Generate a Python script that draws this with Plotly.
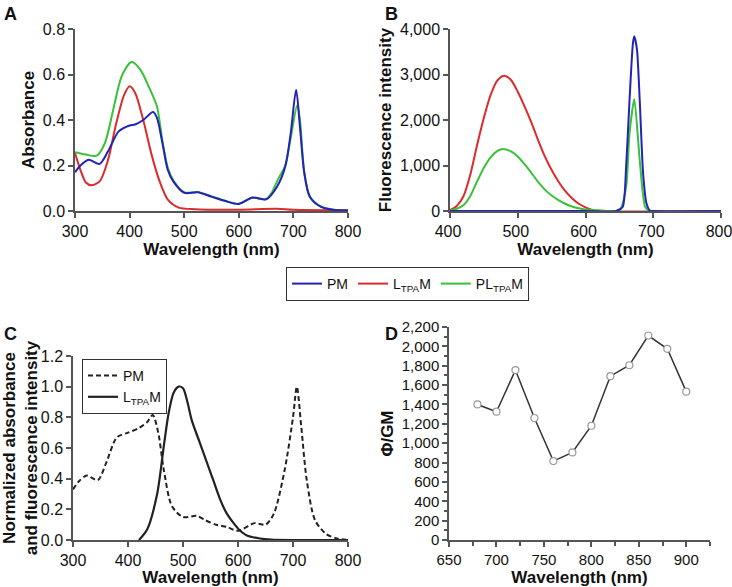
import plotly.graph_objects as go

# ---------- Data ----------
# Panel A: absorbance
a_pm_wl = [300,310,325,345,360,380,400,410,425,443,450,460,470,480,500,525,550,575,600,625,650,670,685,695,705,712,720,730,750,775,800]
a_pm = [0.17,0.20,0.225,0.207,0.26,0.35,0.376,0.38,0.40,0.435,0.41,0.30,0.18,0.13,0.08,0.082,0.063,0.044,0.031,0.059,0.051,0.107,0.195,0.34,0.533,0.37,0.166,0.063,0.019,0.004,0.002]
a_l_wl = [300,310,320,330,345,360,375,390,400,410,425,440,455,470,490,520,600,670,700,800]
a_l = [0.255,0.18,0.125,0.113,0.13,0.22,0.38,0.51,0.548,0.52,0.40,0.25,0.13,0.05,0.015,0.008,0.006,0.01,0.005,0.003]
a_pl_wl = [300,320,340,355,370,385,400,405,420,435,450,460,470,480,500,525,550,575,600,625,650,660,672,685,695,707,712,720,730,750,775,800]
a_pl = [0.258,0.248,0.243,0.30,0.445,0.59,0.65,0.655,0.62,0.547,0.46,0.31,0.19,0.135,0.082,0.083,0.064,0.045,0.032,0.058,0.052,0.08,0.14,0.2,0.32,0.465,0.40,0.17,0.065,0.02,0.005,0.002]

# Panel B: fluorescence
b_pm_wl = [400,500,600,645,655,660,665,670,672,676,680,685,690,695,700,800]
b_pm = [0,0,0,0,95,976,2444,3690,3840,3545,2444,830,170,10,0,0]
b_l_wl = [400,410,420,430,440,450,460,470,480,490,500,510,520,530,540,550,560,570,580,590,600,610,620,800]
b_l = [20,110,330,800,1450,2050,2550,2870,2975,2880,2620,2300,1950,1560,1200,900,650,440,280,160,80,25,0,0]
b_pl_wl = [400,410,420,430,440,450,460,470,478,490,500,510,520,530,540,550,560,570,580,590,600,620,650,660,665,672,680,688,695,800]
b_pl = [10,50,130,330,650,950,1180,1320,1365,1310,1200,1030,840,640,470,340,240,160,100,60,35,15,5,535,1710,2460,1123,95,0,0]

# Panel C: normalized
c_pm_wl = [300,310,325,345,360,380,400,420,435,445,455,465,480,500,525,540,560,580,600,630,650,665,685,700,707,715,725,740,760,780,800]
c_pm = [0.33,0.38,0.42,0.39,0.5,0.67,0.70,0.73,0.77,0.815,0.70,0.46,0.22,0.15,0.157,0.13,0.10,0.085,0.06,0.11,0.10,0.17,0.46,0.80,1.0,0.74,0.39,0.13,0.04,0.01,0.0]
c_l_wl = [420,435,453,465,474,483,492,500,508,516,530,544,556,568,580,592,604,616,640,660,700,800]
c_l = [0,0.07,0.3,0.61,0.83,0.96,1.0,0.99,0.9,0.78,0.64,0.5,0.38,0.26,0.17,0.11,0.06,0.03,0.01,0.003,0,0]

# Panel D: action cross-section
d_wl = [680,700,720,740,760,780,800,820,840,860,880,900]
d_val = [1400,1325,1755,1260,815,905,1180,1692,1805,2112,1975,1532]

BLUE = "#2323b8"
RED = "#dc2b2b"
GREEN = "#38c238"
FONT = "Liberation Sans, Arial, sans-serif"

W, H = 732, 587
def px_x(a, b):
    return [a / W, b / W]
def px_y(top, bottom):
    return [(H - bottom) / H, (H - top) / H]

fig = go.Figure()

def line(x, y, color, name, xa, ya, show, legend="legend", dash="solid", width=2, rank=1000, smooth=0.8):
    fig.add_trace(go.Scatter(x=x, y=y, mode="lines", name=name,
                             line=dict(color=color, width=width, dash=dash, shape="spline", smoothing=smooth),
                             xaxis=xa, yaxis=ya, showlegend=show, legend=legend, legendrank=rank))

# A (green drawn first, blue on top)
line(a_pl_wl, a_pl, GREEN, "PL<sub>TPA</sub>M", "x", "y", True, rank=3)
line(a_l_wl, a_l, RED, "L<sub>TPA</sub>M", "x", "y", True, rank=2)
line(a_pm_wl, a_pm, BLUE, "PM", "x", "y", True, rank=1)
# B
line(b_l_wl, b_l, RED, "L", "x2", "y2", False)
line(b_pl_wl, b_pl, GREEN, "PL", "x2", "y2", False, smooth=0.6)
line(b_pm_wl, b_pm, BLUE, "P", "x2", "y2", False, smooth=0.6)
# C
line(c_pm_wl, c_pm, "#222222", "PM", "x3", "y3", True, legend="legend2", dash="5px,3px", width=2, rank=1)
line(c_l_wl, c_l, "#222222", "L<sub>TPA</sub>M", "x3", "y3", True, legend="legend2", width=2.2, rank=2)
# D
fig.add_trace(go.Scatter(x=d_wl, y=d_val, mode="lines+markers", showlegend=False,
                         line=dict(color="#333333", width=1.5),
                         marker=dict(symbol="circle", size=7, color="white",
                                     line=dict(color="#999999", width=1.2)),
                         xaxis="x4", yaxis="y4"))

tickfont = dict(family=FONT, size=16, color="#111111")
titlefont = dict(family=FONT, size=17, color="#111111")
axcommon = dict(showline=True, linecolor="#555555", linewidth=1.5, ticks="outside",
                ticklen=5, tickcolor="#555555", tickwidth=1.5, showgrid=False,
                zeroline=False, tickfont=tickfont, fixedrange=True, automargin=False,
                ticklabeloverflow="allow")

def xt(t, standoff=4):
    return dict(text="<b>%s</b>" % t, font=titlefont, standoff=standoff)

fig.update_layout(
    width=W, height=H, margin=dict(l=0, r=0, t=0, b=0),
    paper_bgcolor="white", plot_bgcolor="white",
    font=dict(family=FONT, color="#111111"),
    xaxis=dict(domain=px_x(75, 348), range=[300, 800], tickvals=[300,400,500,600,700,800],
               anchor="y", title=xt("Wavelength (nm)"), **axcommon),
    yaxis=dict(domain=px_y(29, 211), range=[0, 0.8], tickvals=[0,0.2,0.4,0.6,0.8], tickformat=".1f",
               anchor="x", title=xt("Absorbance"), **axcommon),
    xaxis2=dict(domain=px_x(450, 721), range=[400, 800], tickvals=[400,500,600,700,800],
                anchor="y2", title=xt("Wavelength (nm)"), ticklabelshift=-2, **axcommon),
    yaxis2=dict(domain=px_y(29, 211), range=[0, 4000], tickvals=[0,1000,2000,3000,4000], tickformat=",",
                anchor="x2", title=xt("Fluorescence intensity"), **axcommon),
    xaxis3=dict(domain=px_x(73, 348), range=[300, 800], tickvals=[300,400,500,600,700,800],
                anchor="y3", title=xt("Wavelength (nm)"), **axcommon),
    yaxis3=dict(domain=px_y(356, 540), range=[0, 1.2], tickvals=[0,0.2,0.4,0.6,0.8,1.0,1.2], tickformat=".1f",
                anchor="x3", title=dict(text="<b>Normalized absorbance<br>and fluorescence intensity</b>",
                                        font=titlefont, standoff=1), **axcommon),
    xaxis4=dict(domain=px_x(449, 710), range=[650, 925], tickvals=[650,700,750,800,850,900],
                anchor="y4", title=xt("Wavelength (nm)"),
                minor=dict(tickvals=[675,725,775,825,875,925], ticks="outside", ticklen=4, tickcolor="#555555"),
                **axcommon),
    yaxis4=dict(domain=px_y(327, 540), range=[0, 2200], tickvals=list(range(0, 2201, 200)), tickformat=",",
                anchor="x4", title=xt("Φ/GM"),
                minor=dict(tickvals=list(range(100, 2200, 200)), ticks="outside", ticklen=3, tickcolor="#555555"),
                **axcommon),
    legend=dict(x=286 / W, y=(H - 267) / H, xanchor="left", yanchor="top", orientation="h",
                bordercolor="#333333", borderwidth=1, bgcolor="white",
                font=dict(family=FONT, size=14, color="#111111"),
                traceorder="normal"),
    legend2=dict(x=82 / W, y=(H - 359) / H, xanchor="left", yanchor="top",
                 bordercolor="#333333", borderwidth=1, bgcolor="white", tracegroupgap=0,
                 font=dict(family=FONT, size=14, color="#111111")),
)
fig.update_layout(yaxis4_tickfont_size=15, xaxis4_tickfont_size=15)

for txt, x, y in [("A", 2, 2), ("B", 383, 2), ("C", 2, 322), ("D", 383, 322)]:
    fig.add_annotation(text="<b>%s</b>" % txt, x=x / W, y=(H - y) / H, xref="paper", yref="paper",
                       xanchor="left", yanchor="top", showarrow=False,
                       font=dict(family=FONT, size=18, color="#111111"))

fig.write_html("out.html", config={"displayModeBar": False},
               post_script="document.body.style.margin='0px';document.body.style.overflow='hidden';")
